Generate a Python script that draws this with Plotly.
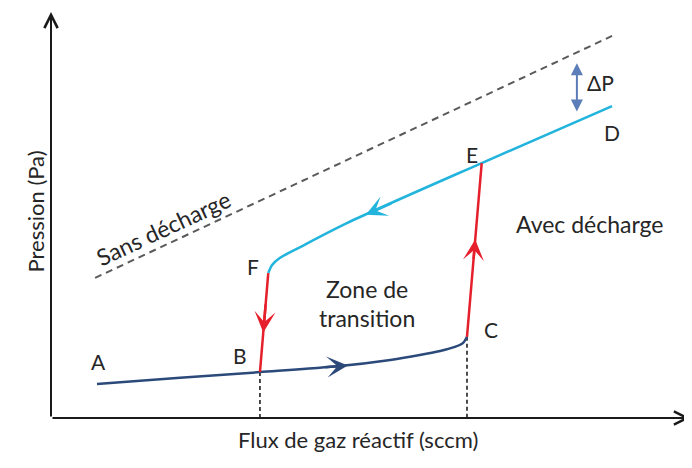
import plotly.graph_objects as go

# ---- data (arbitrary units: flux 0-100, pressure 0-100) ----
lower_flux = [7.2, 20.2, 32.7, 45.2, 53.1, 57.7, 60.9, 63.2, 64.5, 65.1]
lower_pressure = [8.4, 9.9, 11.3, 12.8, 14.3, 15.5, 16.5, 17.5, 18.5, 20.0]

upper_flux = [87.8, 67.4, 46.3, 39.0, 35.8, 34.6, 34.0]
upper_pressure = [76.8, 62.8, 48.0, 42.1, 39.4, 37.7, 35.7]

jump_up_flux = [65.1, 67.4]
jump_up_pressure = [20.0, 62.8]
jump_down_flux = [34.0, 32.7]
jump_down_pressure = [35.7, 11.3]

no_discharge_flux = [6.9, 87.8]
no_discharge_pressure = [34.5, 94.1]

critical_flux = [32.7, 65.1]
critical_pressure = [11.3, 20.0]

point_names = ["A", "B", "C", "D", "E", "F"]

NAVY = "#2b4a7a"
CYAN = "#22b4dc"
RED = "#e5202c"
STEEL = "#5b7db8"
GREY = "#5a5a5a"
TXT = "#262626"
FONT = "Lato"
TS = 23  # text size

fig = go.Figure()

# Sans décharge (dashed)
fig.add_trace(go.Scatter(x=no_discharge_flux, y=no_discharge_pressure, mode="lines",
                         line=dict(color=GREY, width=2, dash="7px,5px"), hoverinfo="skip"))
# critical flux dashed verticals
for cx, cy in zip(critical_flux, critical_pressure):
    fig.add_trace(go.Scatter(x=[cx, cx], y=[cy, 0], mode="lines",
                             line=dict(color="#111111", width=1.5, dash="4px,3px"), hoverinfo="skip"))
# lower branch A -> C
fig.add_trace(go.Scatter(x=lower_flux, y=lower_pressure, mode="lines",
                         line=dict(color=NAVY, width=2.5, shape="spline", smoothing=0.8),
                         hoverinfo="skip"))
# upper branch D -> F
fig.add_trace(go.Scatter(x=upper_flux, y=upper_pressure, mode="lines",
                         line=dict(color=CYAN, width=2.5, shape="spline", smoothing=0.8),
                         hoverinfo="skip"))
# jumps
fig.add_trace(go.Scatter(x=jump_up_flux, y=jump_up_pressure, mode="lines",
                         line=dict(color=RED, width=2.5), hoverinfo="skip"))
fig.add_trace(go.Scatter(x=jump_down_flux, y=jump_down_pressure, mode="lines",
                         line=dict(color=RED, width=2.5), hoverinfo="skip"))

ann = []


def along(xs, ys, t):
    return xs[0] + (xs[1] - xs[0]) * t, ys[0] + (ys[1] - ys[0]) * t


def dir_arrow(tail, tip, color):
    ann.append(dict(x=tip[0], y=tip[1], ax=tail[0], ay=tail[1], xref="x", yref="y",
                    axref="x", ayref="y", showarrow=True, arrowhead=3, arrowsize=1.4,
                    arrowwidth=2.5, arrowcolor=color, text=""))


# direction arrows on curves
dir_arrow(along(lower_flux[2:4], lower_pressure[2:4], 0.8), along(lower_flux[2:4], lower_pressure[2:4], 1.1), NAVY)
dir_arrow(along(jump_up_flux, jump_up_pressure, 0.44), along(jump_up_flux, jump_up_pressure, 0.56), RED)
dir_arrow(along(jump_down_flux, jump_down_pressure, 0.3), along(jump_down_flux, jump_down_pressure, 0.6), RED)
dir_arrow(along(upper_flux[1:3], upper_pressure[1:3], 0.66), along(upper_flux[1:3], upper_pressure[1:3], 0.86), CYAN)

# ΔP double arrow
ann.append(dict(x=82.3, y=87.4, ax=82.3, ay=75.1, xref="x", yref="y", axref="x", ayref="y",
                showarrow=True, arrowhead=2, startarrowhead=2, arrowside="end+start",
                arrowsize=1.2, startarrowsize=1.2, arrowwidth=2, arrowcolor=STEEL, text=""))

# axes with arrowheads
ann.append(dict(x=0, y=100, ax=0, ay=0, xref="x", yref="y", axref="x", ayref="y",
                showarrow=True, arrowhead=5, arrowsize=1.3, arrowwidth=2, arrowcolor="#1a1a1a", text=""))
ann.append(dict(x=100, y=0, ax=0, ay=0, xref="x", yref="y", axref="x", ayref="y",
                showarrow=True, arrowhead=5, arrowsize=1.3, arrowwidth=2, arrowcolor="#1a1a1a", text=""))

# point labels
label_pos = {"A": (7.5, 13.8), "B": (29.6, 15.5), "C": (68.9, 21.7),
             "D": (87.8, 70.4), "E": (65.9, 64.8), "F": (31.6, 37.2)}
for name in point_names:
    lx, ly = label_pos[name]
    ann.append(dict(x=lx, y=ly, xref="x", yref="y", text=name, showarrow=False,
                    font=dict(family=FONT, size=21, color=TXT)))

ann.append(dict(x=86.0, y=82.6, xref="x", yref="y", text="ΔP", showarrow=False,
                font=dict(family=FONT, size=21, color=TXT)))

# region texts
ann.append(dict(x=17.6, y=46.8, xref="x", yref="y", text="Sans décharge", textangle=-25,
                showarrow=False, font=dict(family=FONT, size=TS, color=TXT)))
ann.append(dict(x=84.4, y=47.8, xref="x", yref="y", text="Avec décharge",
                showarrow=False, font=dict(family=FONT, size=TS, color=TXT)))
ann.append(dict(x=49.5, y=31.8, xref="x", yref="y", text="Zone de",
                showarrow=False, font=dict(family=FONT, size=TS, color=TXT)))
ann.append(dict(x=49.5, y=24.6, xref="x", yref="y", text="transition",
                showarrow=False, font=dict(family=FONT, size=TS, color=TXT)))

# axis titles
ann.append(dict(x=(358 - 51) / 639, y=(418 - 455) / 406, xref="paper", yref="paper",
                text="Flux de gaz réactif (sccm)", showarrow=False,
                font=dict(family=FONT, size=22, color=TXT)))
ann.append(dict(x=(20 - 51) / 639, y=(418 - 212) / 406, xref="paper", yref="paper",
                text="Pression (Pa)", textangle=-90, showarrow=False,
                font=dict(family=FONT, size=22, color=TXT)))

# page body has an 8px margin: shrink figure and shift plot area accordingly
fig.update_layout(
    width=684, height=460,
    margin=dict(l=43, r=2, t=4, b=50, autoexpand=False),
    paper_bgcolor="white", plot_bgcolor="white",
    showlegend=False,
    annotations=ann,
    xaxis=dict(range=[0, 100], visible=False, fixedrange=True),
    yaxis=dict(range=[0, 100], visible=False, fixedrange=True),
)

fig.write_html("out.html")
